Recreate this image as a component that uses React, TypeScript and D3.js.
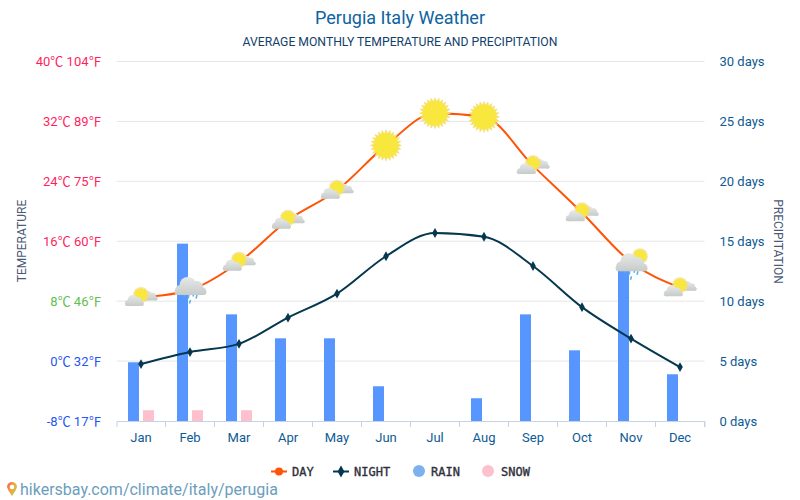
// Perugia monthly weather: temperature lines over rain / snow bars
import React, { useEffect, useRef } from "react";
import * as d3 from "d3";

const months = ["Jan", "Feb", "Mar", "Apr", "May", "Jun", "Jul", "Aug", "Sep", "Oct", "Nov", "Dec"];
const dayTemp = [8.5, 9.5, 13.2, 18.8, 22.8, 28.8, 33.1, 32.6, 26.1, 19.8, 13.2, 9.8];
const nightTemp = [-0.4, 1.2, 2.3, 5.8, 9, 14, 17.1, 16.6, 12.7, 7.2, 3, -0.8];
const rainDays = [4.9, 14.8, 8.9, 6.9, 6.9, 2.9, 0, 1.9, 8.9, 5.9, 12.9, 3.9];
const snowDays = [0.9, 0.9, 0.9, 0, 0, 0, 0, 0, 0, 0, 0, 0];
const icons = ["partly", "rain", "partly", "partly", "partly", "sun", "sun", "sun", "partly", "partly", "mixed", "partly"];
const tempTicks = [-8, 0, 8, 16, 24, 32, 40];
const tempLabels = ["-8℃ 17℉", "0℃ 32℉", "8℃ 46℉", "16℃ 60℉", "24℃ 75℉", "32℃ 89℉", "40℃ 104℉"];
const tempColors = ["#1f57f0", "#1f57f0", "#62c04e", "#ff1f5f", "#ff1f5f", "#ff1f5f", "#ff1f5f"];
const dayTicks = [0, 5, 10, 15, 20, 25, 30];

const width = 800;
const height = 500;
const marginLeft = 116.5;
const marginRight = 95.5;
const marginTop = 61.5;
const marginBottom = 79;
const font = `Roboto, "Noto Sans CJK SC", sans-serif`;

const App: React.FC = () => {
  const svgRef = useRef<SVGSVGElement | null>(null);

  useEffect(() => {
    const svg = d3.select(svgRef.current);
    svg.selectAll("*").remove();

    const defs = svg.append("defs");
    const grad = defs
      .append("linearGradient")
      .attr("id", "cloudFill")
      .attr("gradientUnits", "userSpaceOnUse")
      .attr("x1", 0)
      .attr("x2", 0)
      .attr("y1", -10)
      .attr("y2", 7);
    grad.append("stop").attr("offset", 0).attr("stop-color", "#e6e8e8");
    grad.append("stop").attr("offset", 1).attr("stop-color", "#c4c9c7");
    const pinGrad = defs
      .append("linearGradient")
      .attr("id", "pinFill")
      .attr("x1", 0)
      .attr("x2", 1)
      .attr("y1", 0)
      .attr("y2", 0.6);
    pinGrad.append("stop").attr("offset", 0).attr("stop-color", "#f0506e");
    pinGrad.append("stop").attr("offset", 0.5).attr("stop-color", "#f7a335");
    pinGrad.append("stop").attr("offset", 1).attr("stop-color", "#b9c95a");

    const x = d3.scaleBand().domain(months).range([marginLeft, width - marginRight]);
    const barX = d3.scaleBand().domain(["rain", "snow"]).range([-13, 13]).paddingInner(4 / 15);
    const yTemp = d3.scaleLinear().domain([-8, 40]).range([height - marginBottom, marginTop]);
    const yDays = d3.scaleLinear().domain([0, 30]).range([height - marginBottom, marginTop]);
    const cx = (m: string) => (x(m) as number) + x.bandwidth() / 2;

    // grid
    svg
      .append("g")
      .selectAll("line")
      .data(tempTicks.slice(1))
      .join("line")
      .attr("x1", marginLeft)
      .attr("x2", width - marginRight)
      .attr("y1", (d) => yTemp(d))
      .attr("y2", (d) => yTemp(d))
      .attr("stroke", "#e6e6e6");

    // x axis
    const gx = svg
      .append("g")
      .attr("transform", `translate(0,${height - marginBottom})`)
      .call(d3.axisBottom(x).tickSize(6).tickSizeOuter(6));
    gx.selectAll("path,line").attr("stroke", "#c4d2e6");
    gx.selectAll(".tick line").attr("x1", x.bandwidth() / 2).attr("x2", x.bandwidth() / 2);
    gx.selectAll("text").attr("fill", "#0e5a94").attr("dy", "0.9em").style("font", `13px ${font}`);
    gx.select(".domain").attr("fill", "none");

    // left axis
    const gl = svg.append("g").attr("transform", `translate(${marginLeft},0.3)`);
    gl.call(
      d3
        .axisLeft(yTemp)
        .tickValues(tempTicks)
        .tickSize(0)
        .tickPadding(15)
        .tickFormat((_, i) => tempLabels[i]),
    );
    gl.select(".domain").remove();
    gl.selectAll("text")
      .style("font", `13px ${font}`)
      .attr("fill", (_, i) => tempColors[i]);

    // right axis
    const gr = svg.append("g").attr("transform", `translate(${width - marginRight},0.3)`);
    gr.call(
      d3
        .axisRight(yDays)
        .tickValues(dayTicks)
        .tickSize(0)
        .tickPadding(15)
        .tickFormat((d) => `${d} days`),
    );
    gr.select(".domain").remove();
    gr.selectAll("text").style("font", `13px ${font}`).attr("fill", "#0e5a94");

    // bars
    svg
      .append("g")
      .selectAll("rect")
      .data(rainDays)
      .join("rect")
      .attr("x", (_, i) => cx(months[i]) + (barX("rain") as number))
      .attr("y", (d) => yDays(d))
      .attr("width", barX.bandwidth())
      .attr("height", (d) => yDays(0) - yDays(d))
      .attr("fill", "#5796ff");
    svg
      .append("g")
      .selectAll("rect")
      .data(snowDays)
      .join("rect")
      .attr("x", (_, i) => cx(months[i]) + (barX("snow") as number))
      .attr("y", (d) => yDays(d))
      .attr("width", barX.bandwidth())
      .attr("height", (d) => yDays(0) - yDays(d))
      .attr("fill", "#ffc0cd");

    // lines
    const line = d3
      .line<number>()
      .x((_, i) => cx(months[i]))
      .y((d) => yTemp(d))
      .curve(d3.curveMonotoneX);
    svg
      .append("path")
      .attr("d", line(dayTemp))
      .attr("fill", "none")
      .attr("stroke", "#ff5306")
      .attr("stroke-width", 2);
    svg
      .append("path")
      .attr("d", line(nightTemp))
      .attr("fill", "none")
      .attr("stroke", "#05384f")
      .attr("stroke-width", 2);
    const diamond = d3.symbol().type(d3.symbolDiamond).size(28);
    svg
      .append("g")
      .selectAll("path")
      .data(nightTemp)
      .join("path")
      .attr("d", diamond)
      .attr("fill", "#05384f")
      .attr("transform", (d, i) => `translate(${cx(months[i])},${yTemp(d)})`);

    // weather icons
    const drawSun = (g: any, r: number, dx: number, dy: number) => {
      const spikes = 24;
      const pts = d3.range(spikes * 2).map((k) => {
        const rad = k % 2 ? r * 0.76 : r;
        const a = (k * Math.PI) / spikes;
        return [dx + rad * Math.cos(a), dy + rad * Math.sin(a)] as [number, number];
      });
      g.append("path")
        .attr("d", d3.line()(pts) + "Z")
        .attr("fill", "#f8e73c")
        .attr("stroke", "#f5d98a")
        .attr("stroke-width", 0.6);
    };
    const drawCloud = (g: any, dx: number, dy: number, s: number) => {
      const c = g.append("g").attr("transform", `translate(${dx},${dy}) scale(${s})`);
      [
        [-9, 1.5, 4.5],
        [-2, -3, 7.5],
        [6, -1, 6],
        [11, 2.5, 3.5],
      ].forEach(([px, py, r]) => {
        c.append("circle").attr("cx", px).attr("cy", py).attr("r", r).attr("fill", "url(#cloudFill)");
      });
      c.append("rect").attr("x", -14).attr("y", 0.5).attr("width", 29).attr("height", 5.5).attr("rx", 2.75).attr("fill", "url(#cloudFill)");
    };
    const drawDrops = (g: any, dy: number) => {
      [-6, -2, 3, 6, -0.5].forEach((px, k) => {
        const top = dy + (k === 4 ? 7 : k % 2 ? 2 : 0);
        g.append("line")
          .attr("x1", px + 1)
          .attr("x2", px)
          .attr("y1", top)
          .attr("y2", top + 3.5)
          .attr("stroke", "#58b2ec")
          .attr("stroke-width", 1.5);
      });
    };
    icons.forEach((kind, i) => {
      const g = svg
        .append("g")
        .attr("transform", `translate(${cx(months[i])},${yTemp(dayTemp[i])})`);
      if (kind === "sun") {
        drawSun(g, 15.5, 0, 0);
      } else if (kind === "partly") {
        drawCloud(g, 8, -0.5, 0.58);
        drawSun(g, 8, 0, -2.5);
        drawCloud(g, -7, 4.5, 0.66);
      } else if (kind === "rain") {
        drawDrops(g, 3);
        drawCloud(g, 0, -1.5, 1.1);
      } else {
        drawSun(g, 8, 9, -6);
        drawDrops(g, 7);
        drawCloud(g, 0, 2.5, 1.1);
      }
    });

    // titles
    svg
      .append("text")
      .text("Perugia Italy Weather")
      .attr("x", 400)
      .attr("y", 24)
      .attr("text-anchor", "middle")
      .attr("fill", "#0e63a0")
      .style("font", `18px ${font}`);
    svg
      .append("text")
      .text("AVERAGE MONTHLY TEMPERATURE AND PRECIPITATION")
      .attr("x", 400)
      .attr("y", 46)
      .attr("text-anchor", "middle")
      .attr("fill", "#123f6d")
      .style("font", `12.2px ${font}`);
    svg
      .append("text")
      .text("TEMPERATURE")
      .attr("transform", "translate(26,241) rotate(-90)")
      .attr("text-anchor", "middle")
      .attr("fill", "#4a5a78")
      .style("font", `12px ${font}`);
    svg
      .append("text")
      .text("PRECIPITATION")
      .attr("transform", "translate(774,241.5) rotate(90)")
      .attr("text-anchor", "middle")
      .attr("fill", "#4a5a78")
      .style("font", `12px ${font}`);

    // legend
    const legend = svg.append("g");
    const legendFont = `12px "DejaVu Sans Mono", monospace`;
    const legendText = (label: string, tx: number) =>
      legend
        .append("text")
        .text(label)
        .attr("x", tx)
        .attr("y", 475.5)
        .attr("fill", "#2f2f3a")
        .attr("stroke", "#2f2f3a")
        .attr("stroke-width", 0.35)
        .style("font", legendFont);
    const legendLine = (color: string, lx: number, sym: d3.SymbolType, size: number) => {
      legend.append("line").attr("x1", lx).attr("x2", lx + 16).attr("y1", 471.5).attr("y2", 471.5).attr("stroke", color).attr("stroke-width", 2);
      legend
        .append("path")
        .attr("d", d3.symbol().type(sym).size(size)())
        .attr("fill", color)
        .attr("transform", `translate(${lx + 8},471.5)`);
    };
    legendLine("#ff5306", 271, d3.symbolCircle, 50);
    legendText("DAY", 292);
    legendLine("#05384f", 333, d3.symbolDiamond, 40);
    legendText("NIGHT", 354);
    legend.append("circle").attr("cx", 419).attr("cy", 471).attr("r", 6).attr("fill", "#7db0ee");
    legendText("RAIN", 431);
    legend.append("circle").attr("cx", 488).attr("cy", 471).attr("r", 6).attr("fill", "#ffc0cd");
    legendText("SNOW", 501);

    // source
    const pin = svg.append("g").attr("transform", "translate(12,487)");
    pin.append("path").attr("d", "M-5,0 A5,5 0 1 1 5,0 Q4,4 0,9 Q-4,4 -5,0 Z").attr("fill", "url(#pinFill)");
    pin.append("circle").attr("cy", 0).attr("r", 2.3).attr("fill", "#fff");
    svg
      .append("text")
      .text("hikersbay.com/climate/italy/perugia")
      .attr("x", 20)
      .attr("y", 495)
      .attr("fill", "#6b9dbd")
      .style("font", `16px ${font}`);
  }, []);

  return (
    <svg
      ref={svgRef}
      width={width}
      height={height}
      viewBox={`0 0 ${width} ${height}`}
      style={{ position: "absolute", left: 0, top: 0, background: "#fff" }}
    />
  );
};

export default App;
